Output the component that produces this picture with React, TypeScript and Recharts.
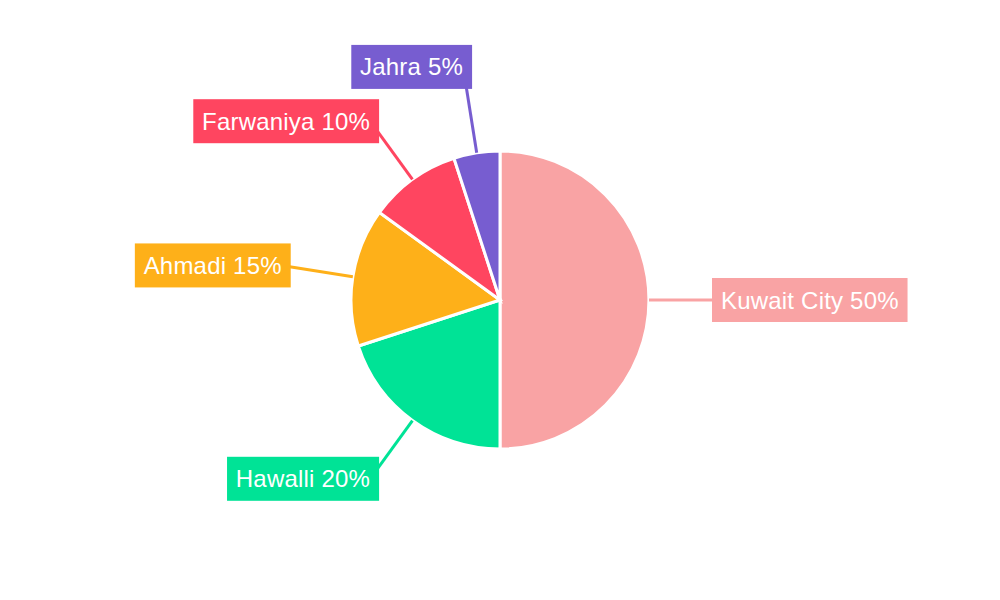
import { Cell, Pie, PieChart } from "recharts";

const REGIONS = ["Kuwait City", "Hawalli", "Ahmadi", "Farwaniya", "Jahra"];
const SHARES = [50, 20, 15, 10, 5];
const COLORS = ["#F9A3A4", "#00E396", "#FEB019", "#FF4560", "#775DD0"];

const data = REGIONS.map((name, i) => ({ name, value: SHARES[i] }));

const FONT = "24px 'Liberation Sans', Arial, sans-serif";
const SPACING = 0.2;
const RAD = Math.PI / 180;
const PAD = 9;
const BOX_H = 44;
const GAP = 10;

let canvas: HTMLCanvasElement | null = null;
function textWidth(s: string) {
  if (!canvas) canvas = document.createElement("canvas");
  const ctx = canvas.getContext("2d")!;
  ctx.font = FONT;
  return ctx.measureText(s).width + SPACING * (s.length - 1);
}

type Box = { x: number; y: number; w: number; h: number };
const placed: Record<number, Box> = {};

function overlaps(a: Box, b: Box) {
  return (
    a.x < b.x + b.w + GAP && b.x < a.x + a.w + GAP && a.y < b.y + b.h + GAP && b.y < a.y + a.h + GAP
  );
}

// push a label outward along its radius until it clears the earlier ones
function layout(cx: number, cy: number, midAngle: number, r0: number, w: number, index: number) {
  const cos = Math.cos(-midAngle * RAD);
  const sin = Math.sin(-midAngle * RAD);
  let r = r0;
  for (;;) {
    const ex = cx + r * cos;
    const ey = cy + r * sin;
    const right = ex >= cx;
    const box = { x: right ? ex - PAD : ex - w - PAD, y: ey - BOX_H / 2, w: w + PAD * 2, h: BOX_H };
    const hit = Object.keys(placed).some((k) => Number(k) < index && overlaps(box, placed[Number(k)]));
    if (!hit || r > r0 + 200) {
      placed[index] = box;
      return { ex, ey, right, box, cos, sin };
    }
    r += 1;
  }
}

function renderLabel(props: any) {
  const { cx, cy, midAngle, outerRadius, index, name, value } = props;
  const color = COLORS[index];
  const text = `${name} ${value}%`;
  const w = textWidth(text);
  const { ex, ey, right, box, cos, sin } = layout(cx, cy, midAngle, outerRadius + 72, w, index);
  return (
    <g key={`lbl-${index}`}>
      <line
        x1={cx + outerRadius * cos}
        y1={cy + outerRadius * sin}
        x2={ex}
        y2={ey}
        stroke={color}
        strokeWidth={3}
      />
      <rect x={box.x} y={box.y} width={box.w} height={box.h} fill={color} />
      <text
        x={ex}
        y={ey}
        textAnchor={right ? "start" : "end"}
        dominantBaseline="central"
        fill="#fff"
        style={{ font: FONT, letterSpacing: SPACING }}
      >
        {text}
      </text>
    </g>
  );
}

export default function App() {
  return (
    <div style={{ position: "absolute", left: 0, top: 0, width: 1000, height: 600, background: "#fff" }}>
      <PieChart width={1000} height={600} margin={{ top: 0, right: 0, bottom: 0, left: 0 }}>
        <Pie
          data={data}
          dataKey="value"
          nameKey="name"
          cx={500}
          cy={300}
          outerRadius={149}
          startAngle={90}
          endAngle={-270}
          stroke="#fff"
          strokeWidth={3}
          label={renderLabel}
          labelLine={false}
          isAnimationActive={false}
        >
          {data.map((d, i) => (
            <Cell key={d.name} fill={COLORS[i]} />
          ))}
        </Pie>
      </PieChart>
    </div>
  );
}
